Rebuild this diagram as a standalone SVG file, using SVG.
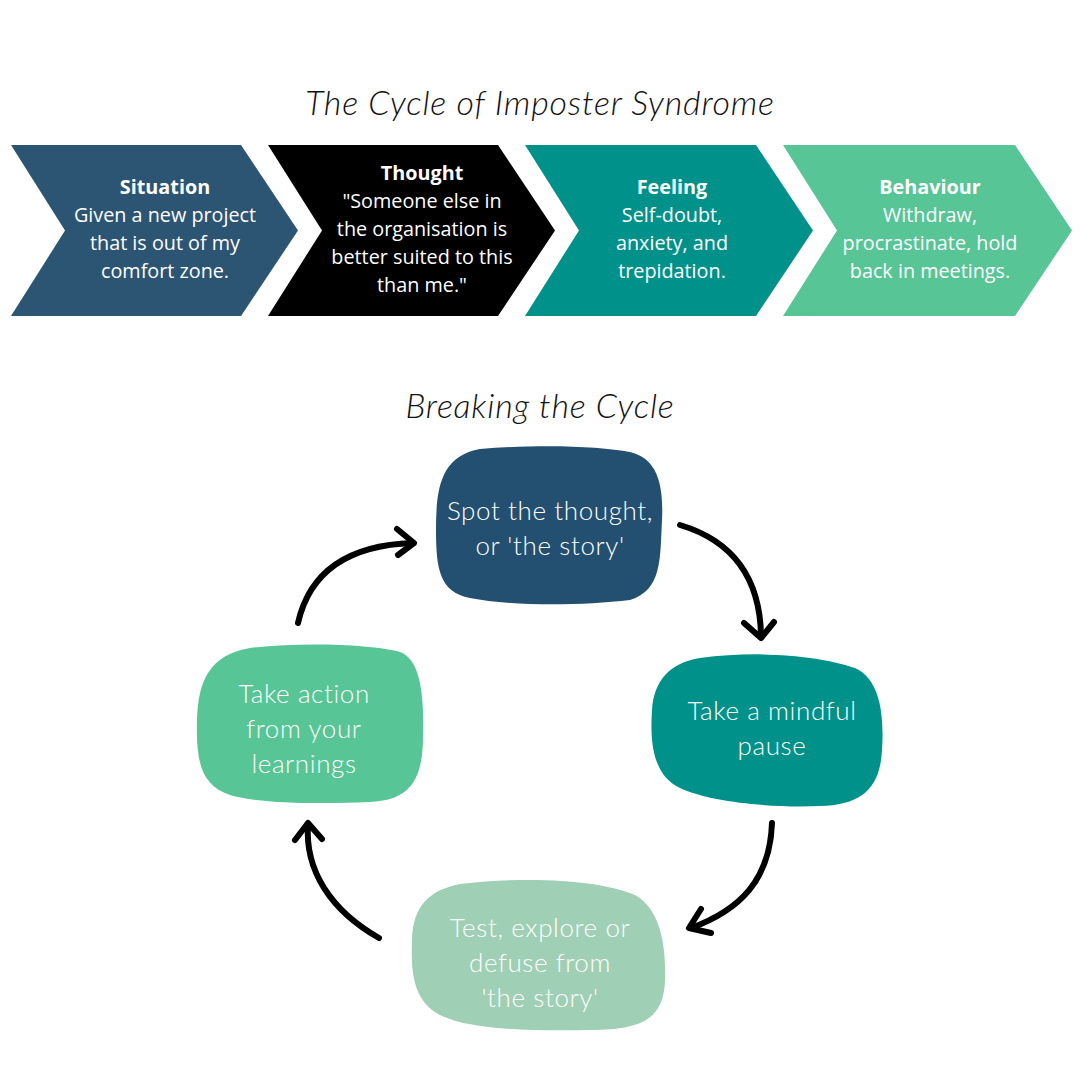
<svg xmlns="http://www.w3.org/2000/svg" width="1080" height="1080" viewBox="0 0 1080 1080">
<defs>
<style>
.title{font-family:"Lato","Liberation Sans",sans-serif;font-style:italic;font-size:34px;fill:#111;text-anchor:middle;font-weight:300;letter-spacing:0.8px}
.ct{font-family:"Open Sans","Liberation Sans",sans-serif;font-size:19.8px;fill:#fff;text-anchor:middle}
.cb{font-weight:bold}
.bt{font-family:"Lato","Liberation Sans",sans-serif;font-size:26px;fill:#fff;text-anchor:middle;font-weight:300;letter-spacing:0.6px}
.arr{fill:none;stroke:#000;stroke-width:6;stroke-linecap:round;stroke-linejoin:round}
</style>
</defs>
<rect width="1080" height="1080" fill="#fff"/>
<text class="title" x="540" y="115">The Cycle of Imposter Syndrome</text>
<text class="title" x="540" y="418">Breaking the Cycle</text>

<g id="situation">
<polygon points="11,145 241,145 298,230.5 241,316 11,316 65,230.5" fill="#2c5573"/>
<text class="ct" x="165" y="194"><tspan class="cb">Situation</tspan><tspan x="165" dy="28">Given a new project</tspan><tspan x="165" dy="28">that is out of my</tspan><tspan x="165" dy="28">comfort zone.</tspan></text>
</g>
<g id="thought">
<polygon points="268,145 498,145 555,230.5 498,316 268,316 322,230.5" fill="#000"/>
<text class="ct" x="422" y="180"><tspan class="cb">Thought</tspan><tspan x="422" dy="28">"Someone else in</tspan><tspan x="422" dy="28">the organisation is</tspan><tspan x="422" dy="28">better suited to this</tspan><tspan x="422" dy="28">than me."</tspan></text>
</g>
<g id="feeling">
<polygon points="525,145 756,145 813,230.5 756,316 525,316 579,230.5" fill="#00918a"/>
<text class="ct" x="672" y="194"><tspan class="cb">Feeling</tspan><tspan x="672" dy="28">Self-doubt,</tspan><tspan x="672" dy="28">anxiety, and</tspan><tspan x="672" dy="28">trepidation.</tspan></text>
</g>
<g id="behaviour">
<polygon points="783,145 1015,145 1072,230.5 1015,316 783,316 837,230.5" fill="#57c596"/>
<text class="ct" x="930" y="194"><tspan class="cb">Behaviour</tspan><tspan x="930" dy="28">Withdraw,</tspan><tspan x="930" dy="28">procrastinate, hold</tspan><tspan x="930" dy="28">back in meetings.</tspan></text>
</g>

<g id="spot">
<path d="M480,449 C540,444 600,446 630,452 C655,458 664,480 662,520 C660,560 662,590 630,600 C580,606 510,606 470,598 C440,592 436,570 436,530 C436,490 440,456 480,449 Z" fill="#234f70"/>
<text class="bt" x="550" y="520">Spot the thought,</text>
<text class="bt" x="550" y="555">or 'the story'</text>
</g>
<g id="pause">
<path d="M700,658 C760,650 820,656 855,668 C882,680 884,720 882,750 C880,790 860,805 820,806 C770,808 710,802 680,788 C652,775 650,740 652,710 C654,680 670,663 700,658 Z" fill="#00918a"/>
<text class="bt" x="772" y="720">Take a mindful</text>
<text class="bt" x="772" y="755">pause</text>
</g>
<g id="test">
<path d="M460,884 C530,876 600,880 635,895 C662,910 666,950 665,980 C664,1020 640,1030 590,1030 C530,1031 470,1030 440,1015 C412,1000 411,970 412,940 C413,905 430,890 460,884 Z" fill="#9fcfb4"/>
<text class="bt" x="540" y="937">Test, explore or</text>
<text class="bt" x="540" y="972">defuse from</text>
<text class="bt" x="540" y="1007">'the story'</text>
</g>
<g id="action">
<path d="M250,648 C300,642 370,644 400,652 C422,660 424,700 423,740 C422,780 410,800 370,802 C320,804 260,804 230,795 C200,785 196,760 197,720 C198,680 210,655 250,648 Z" fill="#57c596"/>
<text class="bt" x="304" y="703">Take action</text>
<text class="bt" x="304" y="738">from your</text>
<text class="bt" x="304" y="773">learnings</text>
</g>

<g id="connectors">
<path class="arr" d="M680,525 C730,540 760,575 761,636"/>
<path class="arr" d="M744,623 L761,638 L774,622"/>
<path class="arr" d="M772,823 C770,880 740,910 691,928"/>
<path class="arr" d="M701,909 L689,928 L711,933"/>
<path class="arr" d="M379,938 C330,910 305,870 308,825"/>
<path class="arr" d="M295,840 L308,823 L322,839"/>
<path class="arr" d="M298,623 C310,570 350,545 413,543"/>
<path class="arr" d="M397,529 L414,543 L398,555"/>
</g>
</svg>
